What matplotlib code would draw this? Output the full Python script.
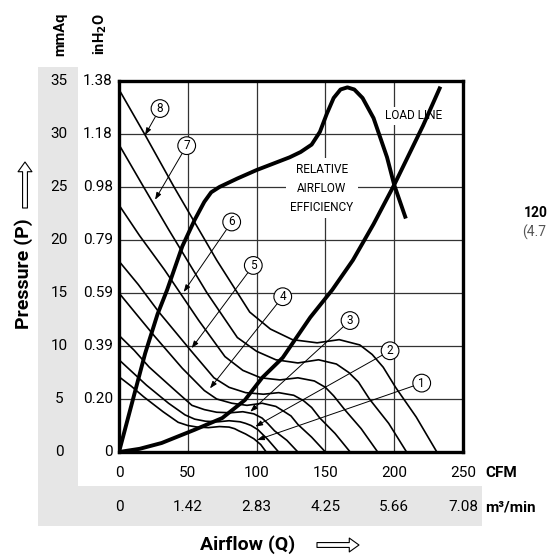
import matplotlib.pyplot as plt
import matplotlib.patches as mpatches
from matplotlib.transforms import blended_transform_factory

plt.rcParams['font.family'] = ['Roboto', 'DejaVu Sans']

W, H = 549, 555

# axis scales
cfm_ticks = [0, 50, 100, 150, 200, 250]
m3min_labels = ['0', '1.42', '2.83', '4.25', '5.66', '7.08']
mmaq_ticks = [0, 5, 10, 15, 20, 25, 30, 35]
inh2o_labels = ['0', '0.20', '0.39', '0.59', '0.79', '0.98', '1.18', '1.38']

# fan curves (CFM, mmAq), 1 = smallest
q1 = [0, 9, 18, 32, 43, 50, 57, 65, 73, 80, 84, 87, 92, 98, 103, 107]
p1 = [7.1, 6.2, 5.2, 3.8, 2.8, 2.5, 2.35, 2.3, 2.4, 2.35, 2.2, 2.0, 1.7, 1.25, 0.7, 0]
q2 = [0, 10, 20, 36, 48, 55, 63, 72, 80, 88, 92, 96, 101, 108, 116]
p2 = [8.7, 7.5, 6.3, 4.6, 3.5, 3.1, 2.9, 2.85, 2.95, 2.85, 2.7, 2.5, 2.1, 1.2, 0]
q3 = [0, 11, 22, 40, 53, 62, 71, 81, 90, 98, 104, 108, 113, 122, 130]
p3 = [11.0, 9.6, 8.0, 5.9, 4.4, 4.0, 3.75, 3.7, 3.8, 3.6, 3.2, 2.7, 2.0, 1.1, 0]
q4 = [0, 12, 26, 46, 62, 71, 82, 93, 104, 114, 119, 125, 130, 140, 150]
p4 = [15.0, 13.1, 10.9, 7.9, 5.8, 5.0, 4.6, 4.4, 4.6, 4.3, 3.9, 3.4, 2.6, 1.4, 0]
q5 = [0, 14, 29, 52, 69, 80, 92, 105, 116, 127, 134, 140, 146, 157, 168]
p5 = [18.0, 15.8, 13.2, 9.6, 7.0, 6.1, 5.6, 5.45, 5.6, 5.35, 4.85, 4.2, 3.2, 1.75, 0]
q6 = [0, 15, 33, 58, 77, 90, 103, 117, 130, 142, 150, 156, 164, 176, 188]
p6 = [23.3, 20.4, 17.2, 12.4, 9.0, 7.7, 7.0, 6.8, 7.0, 6.7, 6.1, 5.3, 4.0, 2.2, 0]
q7 = [0, 17, 36, 64, 86, 100, 114, 130, 145, 158, 167, 174, 182, 196, 209]
p7 = [29.0, 25.2, 21.0, 15.0, 10.8, 9.5, 8.7, 8.4, 8.7, 8.3, 7.5, 6.6, 5.0, 2.7, 0]
q8 = [0, 19, 40, 71, 95, 110, 126, 144, 160, 175, 184, 192, 201, 216, 231]
p8 = [34.2, 29.9, 25.0, 18.1, 13.2, 11.6, 10.6, 10.3, 10.6, 10.1, 9.2, 8.0, 6.1, 3.3, 0]

# relative airflow efficiency
eff_q = [0, 9.4, 19, 28, 35, 46, 55, 62, 67, 73, 86, 100, 112, 124, 132, 140,
         146, 151, 156, 161, 166, 171, 177, 185, 194.8, 200, 208]
eff_p = [0, 4.6, 9.3, 13.0, 15.3, 19.4, 21.9, 23.6, 24.5, 25.0, 25.8, 26.6, 27.2,
         27.8, 28.3, 29.0, 30.2, 31.9, 33.4, 34.2, 34.4, 34.2, 33.4, 31.5, 27.8, 25.2, 22.2]

# load line
load_q = [0, 15, 31, 55, 75, 91.5, 104, 119, 139, 155, 170, 185, 200, 221, 233]
load_p = [0, 0.3, 0.85, 2.1, 3.2, 4.9, 7.0, 8.9, 12.7, 15.3, 18.1, 21.5, 25.2, 30.8, 34.3]

fan_q = [q1, q2, q3, q4, q5, q6, q7, q8]
fan_p = [p1, p2, p3, p4, p5, p6, p7, p8]
fan_names = ['1', '2', '3', '4', '5', '6', '7', '8']

# where the circled numbers sit and where their arrows point
label_pos = [(220, 6.5), (197, 9.55), (167.9, 12.4), (119, 14.65),
             (97.6, 17.6), (81.9, 21.7), (49.2, 28.9), (29.8, 32.4)]
arrow_tip = [(100.3, 1.13), (99.1, 2.4), (95.4, 3.8), (66.1, 6.0),
             (52.8, 9.8), (47.0, 15.1), (26.2, 23.8), (18.9, 29.9)]

fig = plt.figure(figsize=(W / 100, H / 100), dpi=100)

# grey L-shaped band behind the scales
grey = '#e6e6e6'
fig.add_artist(mpatches.Rectangle((38 / W, 69 / H), 40 / W, 419 / H,
                                  transform=fig.transFigure, fc=grey, ec='none', zorder=0))
fig.add_artist(mpatches.Rectangle((38 / W, 29 / H), 444 / W, 40 / H,
                                  transform=fig.transFigure, fc=grey, ec='none', zorder=0))

ax = fig.add_axes([119 / W, 103 / H, 344 / W, 371 / H])
ax.set_xlim(0, 250)
ax.set_ylim(0, 35)
ax.set_xticks(cfm_ticks)
ax.set_yticks(mmaq_ticks)
ax.tick_params(length=0, labelleft=False, labelbottom=False)
ax.grid(True, color='#333333', lw=0.9)
ax.set_axisbelow(True)
for s in ax.spines.values():
    s.set_linewidth(2.4)

for q, p in zip(fan_q, fan_p):
    ax.plot(q, p, color='black', lw=1.2, solid_capstyle='butt', zorder=3)

ax.plot(eff_q, eff_p, color='black', lw=2.8, zorder=4)
ax.plot(load_q, load_p, color='black', lw=2.8, zorder=4)

for name, xy, tip in zip(fan_names, label_pos, arrow_tip):
    ax.annotate(name, xy=tip, xytext=xy, ha='center', va='center', fontsize=8.5,
                bbox=dict(boxstyle='circle,pad=0.2', fc='white', ec='black', lw=0.8),
                arrowprops=dict(arrowstyle='-|>,head_length=0.5,head_width=0.18',
                                color='black', lw=0.7, shrinkA=0, shrinkB=0),
                zorder=5)

narrow = ['Liberation Sans Narrow', 'Roboto', 'DejaVu Sans']
ax.text(147.5, 24.9, 'RELATIVE\nAIRFLOW\nEFFICIENCY', ha='center', va='center',
        fontsize=8.5, linespacing=1.6, family=narrow, zorder=3,
        bbox=dict(fc='white', ec='none', pad=3))
ax.text(214.4, 31.7, 'LOAD LINE', ha='center', va='center', fontsize=8.5,
        family=narrow, zorder=3, bbox=dict(fc='white', ec='none', pad=2))

# tick labels
ytr = blended_transform_factory(fig.transFigure, ax.transData)
for v, lab in zip(mmaq_ticks, inh2o_labels):
    ax.text(59 / W, v, str(v), transform=ytr, ha='center', va='center', fontsize=11)
    ax.text(113 / W, v, lab, transform=ytr, ha='right', va='center', fontsize=11)

xtr = blended_transform_factory(ax.transData, fig.transFigure)
for v, lab in zip(cfm_ticks, m3min_labels):
    ax.text(v, 82 / H, str(v), transform=xtr, ha='center', va='center', fontsize=11)
    ax.text(v, 48 / H, lab, transform=xtr, ha='center', va='center', fontsize=11)

fig.text(485 / W, 82 / H, 'CFM', ha='left', va='center', fontsize=11, fontweight='bold')
fig.text(485 / W, 48 / H, 'm³/min', ha='left', va='center', fontsize=11, fontweight='bold')

fig.text(60 / W, 521 / H, 'mmAq', rotation=90, ha='center', va='center',
         fontsize=10.5, fontweight='bold')
fig.text(100 / W, 521 / H, r'inH$_{\mathbf{2}}$O', rotation=90, ha='center', va='center',
         fontsize=10.5, fontweight='bold')

fig.text(248 / W, 10 / H, 'Airflow (Q)', ha='center', va='center', fontsize=14,
         fontweight='bold')
fig.text(24 / W, 281 / H, 'Pressure (P)', rotation=90, ha='center', va='center',
         fontsize=14, fontweight='bold')

hollow = dict(arrowstyle='simple,head_width=1.0,head_length=0.7,tail_width=0.35',
              fc='white', ec='black', lw=0.8, shrinkA=0, shrinkB=0)
ax.annotate('', xy=(359, 10), xytext=(317, 10), xycoords='figure pixels',
            textcoords='figure pixels', arrowprops=hollow, annotation_clip=False)
ax.annotate('', xy=(25, 393), xytext=(25, 347), xycoords='figure pixels',
            textcoords='figure pixels', arrowprops=hollow, annotation_clip=False)

# text from the neighbouring panel at the right edge
fig.text(524 / W, 342 / H, '120', ha='left', va='center', fontsize=10, fontweight='bold')
fig.text(522 / W, 323 / H, '(4.7', ha='left', va='center', fontsize=10, color='#555555')

fig.savefig('out.png', dpi=100)
